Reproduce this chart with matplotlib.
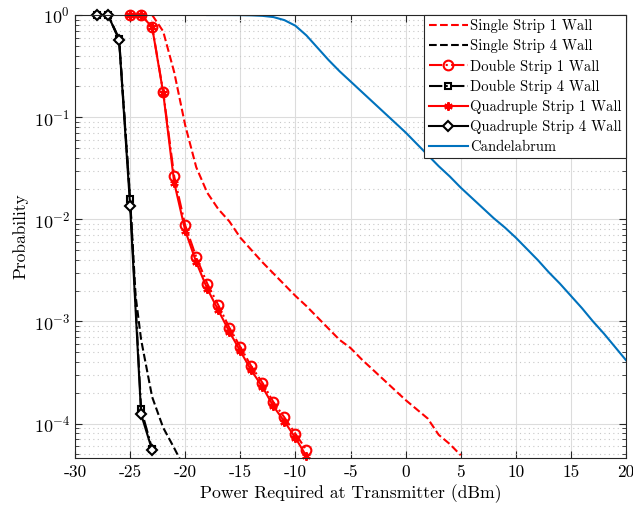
import numpy as np
import matplotlib
matplotlib.use("Agg")
import matplotlib.pyplot as plt

plt.rcParams['font.family'] = 'serif'
plt.rcParams['font.serif'] = ['cmr10']
plt.rcParams['mathtext.fontset'] = 'cm'
plt.rcParams['axes.formatter.use_mathtext'] = True
plt.rcParams['axes.unicode_minus'] = False

# data (x in dBm, probability as log10 values)
x_single1 = [-23, -22, -21, -20, -19, -18, -17, -16, -15, -14, -13, -12, -11, -10,
             -9, -8, -7, -6, -5, -4, -3, -2, -1, 0, 1, 2, 3, 4, 5]
logp_single1 = [0.0, -0.16, -0.56, -1.08, -1.49, -1.74, -1.90, -2.02, -2.18, -2.30,
                -2.42, -2.53, -2.64, -2.75, -2.85, -2.96, -3.07, -3.18, -3.26, -3.37,
                -3.47, -3.57, -3.67, -3.77, -3.86, -3.95, -4.11, -4.20, -4.31]

x_single4 = [-28, -27, -26, -25, -24.5, -24, -23, -22, -21, -20]
logp_single4 = [0.0, 0.0, -0.24, -1.80, -2.75, -3.18, -3.74, -4.04, -4.24, -4.45]

x_double1 = [-25, -24, -23, -22, -21, -20, -19, -18, -17, -16, -15, -14, -13, -12, -11, -10, -9]
logp_double1 = [0.0, 0.0, -0.115, -0.75, -1.58, -2.06, -2.37, -2.63, -2.84, -3.06,
                 -3.25, -3.44, -3.60, -3.79, -3.94, -4.10, -4.26]

x_double4 = [-28, -27, -26, -25, -24, -23]
logp_double4 = [0.0, 0.0, -0.23, -1.80, -3.86, -4.25]

x_quad1 = [-25, -24, -23, -22, -21, -20, -19, -18, -17, -16, -15, -14, -13, -12, -11, -10, -9]
logp_quad1 = [0.0, 0.0, -0.12, -0.76, -1.64, -2.11, -2.42, -2.68, -2.89, -3.10,
              -3.29, -3.48, -3.64, -3.83, -3.98, -4.14, -4.32]

x_quad4 = [-28, -27, -26, -25, -24, -23]
logp_quad4 = [0.0, 0.0, -0.245, -1.87, -3.91, -4.26]

x_cand = [-18, -17, -16, -15, -14, -13, -12, -11, -10, -9, -8, -7, -6, -5, -4, -3, -2,
          -1, 0, 1, 2, 3, 4, 5, 6, 7, 8, 9, 10, 11, 12, 13, 14, 15, 16, 17, 18, 19, 20]
logp_cand = [0.0, 0.0, -0.0003, -0.001, -0.003, -0.008, -0.02, -0.05, -0.105, -0.20,
             -0.32, -0.44, -0.55, -0.65, -0.75, -0.85, -0.95, -1.05, -1.15, -1.26,
             -1.37, -1.48, -1.58, -1.69, -1.79, -1.89, -1.99, -2.08, -2.18, -2.29,
             -2.40, -2.52, -2.63, -2.75, -2.87, -3.00, -3.12, -3.25, -3.38]

labels = ['Single Strip 1 Wall', 'Single Strip 4 Wall', 'Double Strip 1 Wall',
          'Double Strip 4 Wall', 'Quadruple Strip 1 Wall', 'Quadruple Strip 4 Wall',
          'Candelabrum']
xticks = [-30, -25, -20, -15, -10, -5, 0, 5, 10, 15, 20]

fig = plt.figure(figsize=(6.33, 5.09), dpi=100)
ax = fig.add_axes([0.1185, 0.1002, 0.8705, 0.8703])

lw = 1.5
ax.plot(x_single1, 10 ** np.array(logp_single1), '--', color='red', lw=lw, label=labels[0])
ax.plot(x_single4, 10 ** np.array(logp_single4), '--', color='black', lw=lw, label=labels[1])
ax.plot(x_double1, 10 ** np.array(logp_double1), '-.', color='red', lw=lw, marker='o',
        ms=7, mfc='none', mew=1.5, label=labels[2], clip_on=False)
ax.plot(x_double4, 10 ** np.array(logp_double4), '-.', color='black', lw=lw, marker='s',
        ms=4.5, mfc='none', mew=1.5, label=labels[3], clip_on=False)
ax.plot(x_quad1, 10 ** np.array(logp_quad1), '-', color='red', lw=lw, marker=(6, 2, 0),
        ms=6, mew=1.5, label=labels[4], clip_on=False)
ax.plot(x_quad4, 10 ** np.array(logp_quad4), '-', color='black', lw=lw, marker='D',
        ms=5, mfc='white', mew=1.5, label=labels[5], clip_on=False)
ax.plot(x_cand, 10 ** np.array(logp_cand), '-', color='#0072BD', lw=lw, label=labels[6])

ax.set_yscale('log')
ax.set_xlim(-30, 20)
ax.set_ylim(4.6e-5, 1)
ax.set_xticks(xticks)
ax.set_xticklabels([str(v) for v in xticks])
ax.set_yticks([1e-4, 1e-3, 1e-2, 1e-1, 1])

ax.grid(True, which='major', color='#dcdcdc', lw=0.8, ls='-')
ax.grid(True, which='minor', axis='y', color='#c8c8c8', lw=0.8, ls=(0, (1, 3)))
ax.set_axisbelow(True)

for s in ax.spines.values():
    s.set_color('#262626')
    s.set_linewidth(0.8)
ax.tick_params(which='both', direction='in', top=True, right=True, colors='#262626',
               labelcolor='black')
ax.tick_params(axis='x', labelsize=12.5, pad=5)
ax.tick_params(axis='y', labelsize=13)
ax.tick_params(which='major', length=5)
ax.tick_params(which='minor', length=3)

ax.set_xlabel('Power Required at Transmitter (dBm)', fontsize=12.75, labelpad=3)
ax.set_ylabel('Probability', fontsize=12.5, labelpad=4)

leg = ax.legend(loc='upper right', fontsize=10.5, borderaxespad=0, fancybox=False,
                framealpha=1, edgecolor='#262626', handlelength=2.7,
                handletextpad=0.15, labelspacing=0.41, borderpad=0.3)
leg.get_frame().set_linewidth(0.8)

fig.savefig('out.png', dpi=100)
